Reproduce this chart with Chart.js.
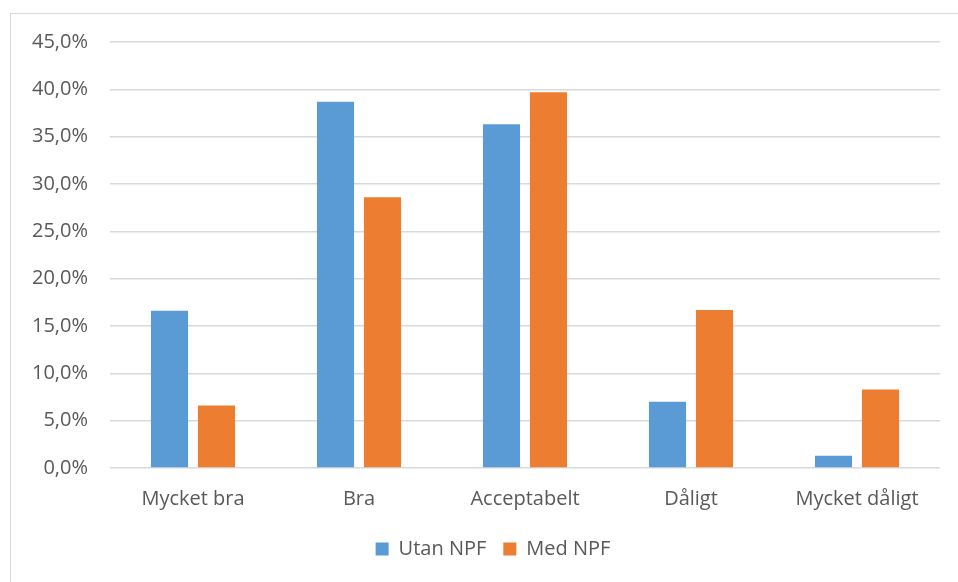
<!DOCTYPE html>
<html>
<head>
<meta charset="utf-8">
<script src="https://cdn.jsdelivr.net/npm/chart.js@4"></script>
<style>
  body { margin: 0; background: #fff; }
  #wrap { position: relative; width: 958px; height: 582px; }
  #frame { position: absolute; left: 10px; top: 13px; width: 960px; height: 600px;
    border-left: 1.5px solid #d9d9d9; border-top: 1.5px solid #d9d9d9; }
  canvas { position: absolute; left: 0; top: 0; }
</style>
</head>
<body>
<div id="wrap">
  <div id="frame"></div>
  <canvas id="chart" width="958" height="582"></canvas>
</div>
<script>
const categories = ["Mycket bra", "Bra", "Acceptabelt", "Dåligt", "Mycket dåligt"];
const utanNPF = [16.6, 38.7, 36.3, 7.0, 1.3];
const medNPF = [6.6, 28.6, 39.7, 16.7, 8.3];
const seriesNames = ["Utan NPF", "Med NPF"];

const textFont = { family: "Open Sans", size: 20 };

// legend sits a bit right of centre in the original
const shiftLegend = {
  id: "shiftLegend",
  afterLayout(chart) {
    chart.legend.left += 18;
    chart.legend.right += 18;
  }
};

const ctx = document.getElementById("chart").getContext("2d");
new Chart(ctx, {
  type: "bar",
  data: {
    labels: categories,
    datasets: [
      { label: seriesNames[0], data: utanNPF, backgroundColor: "#5b9bd5",
        categoryPercentage: 0.566, barPercentage: 0.79 },
      { label: seriesNames[1], data: medNPF, backgroundColor: "#ed7d31",
        categoryPercentage: 0.566, barPercentage: 0.79 }
    ]
  },
  options: {
    responsive: false,
    animation: false,
    layout: { padding: { left: 10, right: 18, top: 42, bottom: 13 } },
    plugins: {
      tooltip: { enabled: false },
      legend: {
        position: "bottom",
        labels: {
          boxWidth: 13, boxHeight: 13, padding: 17,
          color: "#595959", font: textFont
        }
      }
    },
    scales: {
      x: {
        grid: { display: false },
        border: { display: false },
        ticks: { color: "#595959", font: textFont, padding: 11 }
      },
      y: {
        min: 0, max: 45,
        afterFit: (s) => { s.width = 100; },
        grid: { color: "#d9d9d9", lineWidth: 1.5, drawTicks: false },
        border: { display: false },
        ticks: {
          stepSize: 5, padding: 22, color: "#595959",
          font: textFont,
          callback: (v) => v.toFixed(1).replace(".", ",") + "%"
        }
      }
    }
  },
  plugins: [shiftLegend]
});
</script>
</body>
</html>
